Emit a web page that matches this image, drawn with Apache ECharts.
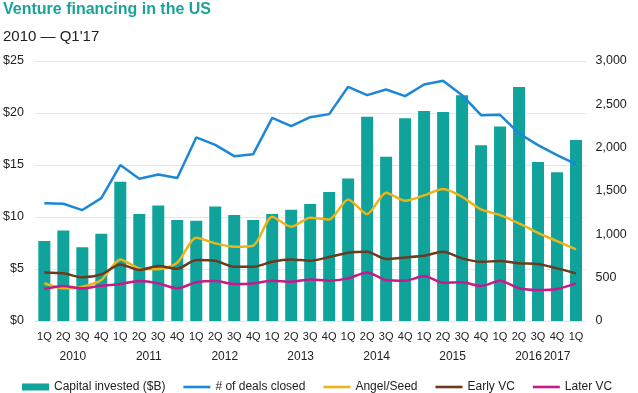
<!DOCTYPE html>
<html>
<head>
<meta charset="utf-8">
<script src="https://cdn.jsdelivr.net/npm/echarts@6/dist/echarts.min.js"></script>
<style>
html,body{margin:0;padding:0;background:#fff;}
#chart{width:638px;height:393px;}
</style>
</head>
<body>
<div id="chart"></div>
<script>
var quarters = ['1Q','2Q','3Q','4Q','1Q','2Q','3Q','4Q','1Q','2Q','3Q','4Q','1Q','2Q','3Q','4Q','1Q','2Q','3Q','4Q','1Q','2Q','3Q','4Q','1Q','2Q','3Q','4Q','1Q'];
var years = ['2010','2011','2012','2013','2014','2015','2016','2017'];
var yearPos = [1.5, 5.5, 9.5, 13.5, 17.5, 21.5, 25.5, 27];
var capital = [7.7,8.7,7.1,8.4,13.4,10.3,11.1,9.7,9.65,11.0,10.2,9.7,10.3,10.7,11.25,12.4,13.7,19.65,15.8,19.5,20.2,20.1,21.7,16.9,18.7,22.5,15.3,14.3,17.4];
var deals = [1360,1353,1280,1418,1799,1641,1691,1649,2118,2033,1902,1925,2344,2248,2352,2387,2702,2606,2671,2594,2729,2771,2606,2375,2379,2164,2029,1914,1810];
var angel = [435,377,396,473,711,607,596,673,961,896,857,869,1203,1088,1191,1172,1403,1234,1480,1387,1449,1522,1433,1288,1222,1126,1018,922,826];
var early = [561,550,504,538,653,588,634,603,703,695,626,626,684,711,695,738,788,799,715,734,753,799,723,684,692,665,657,607,550];
var later = [369,404,377,407,427,461,434,377,446,461,427,434,465,453,480,465,492,561,473,465,519,442,446,404,465,377,357,369,434];
var leftTicks = {min:0, max:25, interval:5};
var rightTicks = {min:0, max:3000, interval:500};

var FONT = "'Liberation Sans', Arial, sans-serif";
var LINE_ICON = 'path://M0,0 L27,0 L27,2.6 L0,2.6 Z';
var chart = echarts.init(document.getElementById('chart'));
chart.setOption({
  animation: false,
  textStyle: {fontFamily: FONT},
  title: [
    {text: 'Venture financing in the US', left: 3, top: 2, padding: 0,
     textStyle: {fontFamily: FONT, fontSize: 16, fontWeight: 'bold', color: '#1ba39a'}},
    {text: "2010 \u2014 Q1'17", left: 3, top: 29, padding: 0,
     textStyle: {fontFamily: FONT, fontSize: 15, fontWeight: 'normal', color: '#222'}}
  ],
  legend: {
    left: 17, top: 376, itemWidth: 27, itemHeight: 7, itemGap: 18, symbolKeepAspect: true,
    textStyle: {fontFamily: FONT, fontSize: 12, color: '#222'},
    data: [
      {name: 'Capital invested ($B)', icon: 'rect'},
      {name: '# of deals closed', icon: LINE_ICON},
      {name: 'Angel/Seed', icon: LINE_ICON},
      {name: 'Early VC', icon: LINE_ICON},
      {name: 'Later VC', icon: LINE_ICON}
    ]
  },
  grid: {left: 34, right: 52.5, top: 61, bottom: 72},
  xAxis: [
    {type: 'category', data: quarters, boundaryGap: true,
     axisLine: {show: false}, axisTick: {show: false},
     axisLabel: {interval: 0, fontSize: 11, color: '#222', margin: 10, fontFamily: FONT}},
    {type: 'value', position: 'bottom', min: -0.5, max: 28.5,
     axisLine: {show: false}, axisTick: {show: false}, splitLine: {show: false},
     axisLabel: {customValues: yearPos, margin: 30, fontSize: 12, color: '#222', fontFamily: FONT,
       formatter: function (v) { var i = yearPos.indexOf(v); return i >= 0 ? years[i] : ''; }}}
  ],
  yAxis: [
    {type: 'value', min: leftTicks.min, max: leftTicks.max, interval: leftTicks.interval,
     axisLine: {show: false}, axisTick: {show: false},
     splitLine: {lineStyle: {color: '#e6e6e6', width: 1}},
     axisLabel: {formatter: '${value}', fontSize: 12.5, color: '#222', margin: 11, fontFamily: FONT}},
    {type: 'value', min: rightTicks.min, max: rightTicks.max, interval: rightTicks.interval,
     axisLine: {show: false}, axisTick: {show: false}, splitLine: {show: false},
     axisLabel: {fontSize: 12.5, color: '#222', margin: 10, fontFamily: FONT,
       formatter: function (v) { return v.toLocaleString('en-US'); }}}
  ],
  series: [
    {name: 'Capital invested ($B)', type: 'bar', data: capital, barWidth: 12,
     xAxisIndex: 0, yAxisIndex: 0, itemStyle: {color: '#0fa39b'}},
    {name: '# of deals closed', type: 'line', data: deals, xAxisIndex: 0, yAxisIndex: 1,
     symbol: 'none', lineStyle: {color: '#1c87d6', width: 2.5}, itemStyle: {color: '#1c87d6'}},
    {name: 'Angel/Seed', type: 'line', data: angel, xAxisIndex: 0, yAxisIndex: 1, smooth: 0.25,
     symbol: 'none', lineStyle: {color: '#eeb318', width: 2.5}, itemStyle: {color: '#eeb318'}},
    {name: 'Early VC', type: 'line', data: early, xAxisIndex: 0, yAxisIndex: 1, smooth: 0.25,
     symbol: 'none', lineStyle: {color: '#6a3b1f', width: 2.5}, itemStyle: {color: '#6a3b1f'}},
    {name: 'Later VC', type: 'line', data: later, xAxisIndex: 0, yAxisIndex: 1, smooth: 0.25,
     symbol: 'none', lineStyle: {color: '#c8198c', width: 2.5}, itemStyle: {color: '#c8198c'}}
  ]
});
</script>
</body>
</html>
